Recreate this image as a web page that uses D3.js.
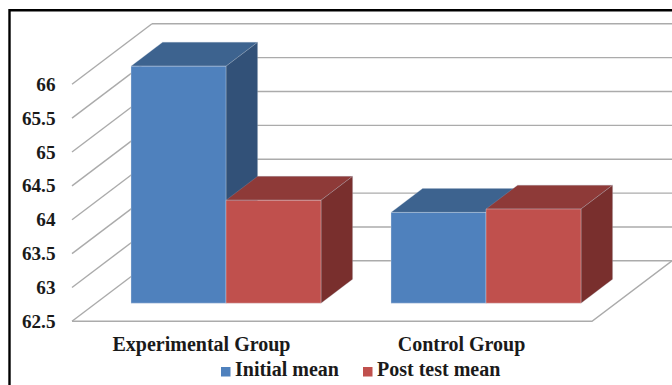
<!DOCTYPE html>
<html>
<head>
<meta charset="utf-8">
<script src="https://cdnjs.cloudflare.com/ajax/libs/d3/7.8.5/d3.min.js"></script>
<style>
  html, body { margin: 0; padding: 0; background: #fff; }
  svg { display: block; }
  text { font-family: "Liberation Serif", serif; font-weight: 700; fill: #1a1a1a; }
</style>
</head>
<body>
<script>
const categories = ["Experimental Group", "Control Group"];
const seriesNames = ["Initial mean", "Post test mean"];
const initialMean = [66.0, 63.84];
const postTestMean = [64.02, 63.89];
const yTicks = [62.5, 63, 63.5, 64, 64.5, 65, 65.5, 66];

const frontColors = ["#4f81bd", "#c0504d"];
const topColors = ["#3d638f", "#8e3a38"];
const sideColors = ["#325178", "#792f2d"];

const width = 672, height = 385;
const svg = d3.select("body").append("svg").attr("width", width).attr("height", height);

// Oblique projection: depth 0 is the front edge of the floor, depth 1 the back wall.
const depthX = 80, depthY = -60.5;
const y = d3.scaleLinear().domain([62.5, 66]).range([321.3, 84.3]);
const floorLeft = 72, floorRight = 592;
const barDepth0 = 0.3, barDepth1 = 0.695;
const shift = depthX * barDepth0;

const groupX = d3.scaleBand().domain(categories)
  .range([floorLeft + shift, floorRight + shift])
  .paddingInner(70 / 260).paddingOuter(35 / 260);
const barX = d3.scaleBand().domain(seriesNames).range([0, groupX.bandwidth()]);

const project = (px, value, depth) => [px + depthX * depth, y(value) + depthY * depth];
const poly = pts => pts.map(p => p.join(",")).join(" ");

// Back wall gridlines and their diagonal returns along the side wall
const gridColor = "#ababab";
const grid = svg.append("g").attr("fill", "none").attr("stroke", gridColor).attr("stroke-width", 1.4);
yTicks.forEach(t => {
  const a = project(floorLeft, t, 0), b = project(floorLeft, t, 1);
  grid.append("line").attr("x1", a[0]).attr("y1", a[1]).attr("x2", b[0]).attr("y2", b[1]);
  grid.append("line").attr("x1", b[0]).attr("y1", b[1]).attr("x2", width).attr("y2", b[1]);
});
const base = yTicks[0];
grid.append("polyline").attr("points", poly([
  project(floorLeft, base, 0), project(floorRight, base, 0), project(floorRight, base, 1)
]));

// Bars: each has a front face, a top face and a right side face
const series = [initialMean, postTestMean];
categories.forEach((cat, c) => {
  seriesNames.forEach((name, s) => {
    const v = series[s][c];
    const x0 = groupX(cat) + barX(name) - shift, x1 = x0 + barX.bandwidth();
    const g = svg.append("g").attr("stroke-width", 0.7).attr("stroke-linejoin", "round");
    g.append("polygon").attr("fill", topColors[s]).attr("stroke", "#9fb0c4").attr("stroke-opacity", 0.35)
      .attr("points", poly([project(x0, v, barDepth0), project(x1, v, barDepth0), project(x1, v, barDepth1), project(x0, v, barDepth1)]));
    g.append("polygon").attr("fill", sideColors[s]).attr("stroke", "#b9c4d2").attr("stroke-opacity", 0.35)
      .attr("points", poly([project(x1, base, barDepth0), project(x1, v, barDepth0), project(x1, v, barDepth1), project(x1, base, barDepth1)]));
    g.append("polygon").attr("fill", frontColors[s]).attr("stroke", "#dfe6ee").attr("stroke-opacity", 0.5)
      .attr("points", poly([project(x0, base, barDepth0), project(x1, base, barDepth0), project(x1, v, barDepth0), project(x0, v, barDepth0)]));
  });
});

// Value axis labels
svg.append("g").selectAll("text").data(yTicks).join("text")
  .attr("x", 55.5).attr("y", d => y(d) + 6.5)
  .attr("text-anchor", "end").attr("font-size", 19.2)
  .text(d => d);

// Category labels
svg.append("g").selectAll("text").data(categories).join("text")
  .attr("x", d => groupX(d) + groupX.bandwidth() / 2 - shift - 0.5)
  .attr("y", 350.5)
  .attr("text-anchor", "middle").attr("font-size", 20)
  .text(d => d);

// Legend
const legendSwatch = [221, 363], legendText = [235, 377];
const legend = svg.append("g");
seriesNames.forEach((name, i) => {
  legend.append("rect").attr("x", legendSwatch[i]).attr("y", 367).attr("width", 9.5).attr("height", 9.5).attr("fill", frontColors[i]);
  legend.append("text").attr("x", legendText[i]).attr("y", 376).attr("font-size", 20).text(name);
});

// Frame: only the top and left edges fall inside the canvas
svg.append("polyline").attr("fill", "none").attr("stroke", "#000").attr("stroke-width", 2.4)
  .attr("points", poly([[9.5, height], [9.5, 10.3], [width, 10.3]]));
</script>
</body>
</html>
